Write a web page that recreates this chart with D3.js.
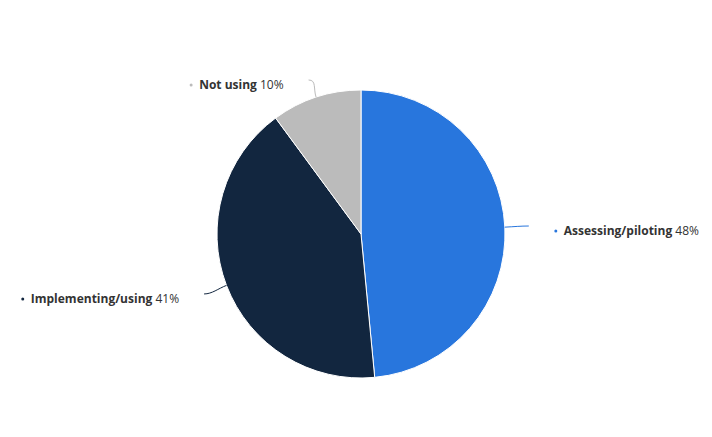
<!DOCTYPE html>
<html>
<head>
<meta charset="utf-8">
<script src="https://cdn.jsdelivr.net/npm/d3@7"></script>
<style>
  body { margin: 0; background: #fff; }
  text { font-family: "Open Sans", sans-serif; font-size: 12px; fill: #333; }
</style>
</head>
<body>
<script>
const categories = ["Assessing/piloting", "Implementing/using", "Not using"];
const values = [48, 41, 10];
const colors = ["#2876dd", "#12263f", "#bbbbbb"];

const width = 712, height = 437;
const cx = 361, cy = 234, radius = 144;
const labelTop = 85; // labels are kept below this line

const svg = d3.select("body").append("svg")
    .attr("width", width)
    .attr("height", height);

const g = svg.append("g").attr("transform", `translate(${cx},${cy})`);

const pie = d3.pie().sort(null).value(d => d.value);
const arc = d3.arc().innerRadius(0).outerRadius(radius);

const data = pie(categories.map((c, i) => ({ name: c, value: values[i], color: colors[i] })));

g.selectAll("path.slice")
  .data(data)
  .enter()
  .append("path")
  .attr("class", "slice")
  .attr("d", arc)
  .attr("fill", d => d.data.color)
  .attr("stroke", "#fff")
  .attr("stroke-width", 1);

// point on circle of radius r at angle a (0 = 12 o'clock, clockwise)
function polar(a, r) { return [Math.sin(a) * r, -Math.cos(a) * r]; }

const connLen = 24;
data.forEach(d => {
  let mid = (d.startAngle + d.endAngle) / 2;
  let right = Math.sin(mid) > 0;
  let p0 = polar(mid, radius);
  let p1 = polar(mid, radius + connLen);

  // label centre line, clamped to the top of the plot
  let ly = Math.max(p1[1] + 5, labelTop - cy);
  p1[1] = ly - 5;
  p1[0] = Math.sign(p1[0]) * Math.min(Math.abs(p1[0]), Math.sqrt(Math.max(0, (radius + connLen) ** 2 - p1[1] ** 2)) + 3);

  // connector: leaves the pie radially, reaches the label horizontally
  let c1 = polar(mid, radius + 9);
  let c2 = [p1[0] + (right ? -8 : 8), p1[1]];
  g.append("path")
    .attr("d", `M${p0[0]},${p0[1]}C${c1[0]},${c1[1]} ${c2[0]},${c2[1]} ${p1[0]},${p1[1]}`)
    .attr("fill", "none")
    .attr("stroke", d.data.color)
    .attr("stroke-width", 1);

  let lx = p1[0] + (right ? 35 : -25);
  let t = g.append("text")
    .attr("x", lx)
    .attr("y", ly)
    .attr("dy", "0.35em")
    .attr("text-anchor", right ? "start" : "end");
  t.append("tspan").attr("font-weight", "bold").text(d.data.name);
  t.append("tspan").text(" " + d.data.value + "%");

  // small bullet in front of the label
  let bb = t.node().getBBox();
  g.append("circle")
    .attr("cx", bb.x - 8)
    .attr("cy", ly)
    .attr("r", 1.5)
    .attr("fill", d.data.color);
});
</script>
</body>
</html>
